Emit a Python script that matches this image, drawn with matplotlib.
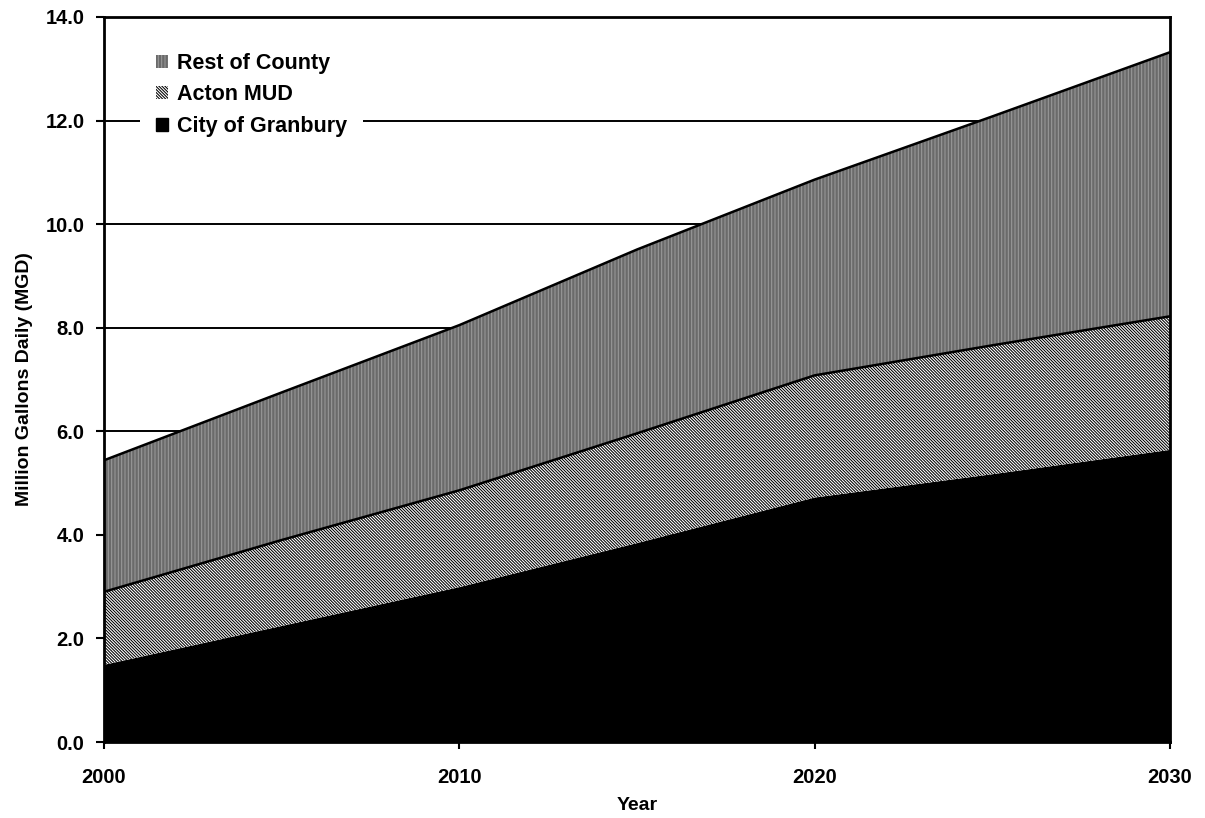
import numpy as np
import matplotlib.pyplot as plt

# values (MGD)
years = [2000, 2005, 2010, 2015, 2020, 2025, 2030]
granbury = [1.49, 2.24, 2.99, 3.84, 4.72, 5.17, 5.64]
acton = [1.41, 1.66, 1.87, 2.12, 2.36, 2.49, 2.58]
rest = [2.54, 2.85, 3.19, 3.55, 3.78, 4.42, 5.10]

yticks = [0, 2, 4, 6, 8, 10, 12, 14]
xticks = [2000, 2010, 2020, 2030]

plt.rcParams['font.family'] = ['Liberation Sans', 'DejaVu Sans']
plt.rcParams['font.weight'] = 'bold'
plt.rcParams['hatch.linewidth'] = 0.75

fig = plt.figure(figsize=(12.05, 8.18), dpi=100)
ax = fig.add_axes([104/1205, 1-742/818, (1170-104)/1205, (742-17)/818])

b1 = np.array(granbury)
b2 = b1 + np.array(acton)
b3 = b2 + np.array(rest)

ax.fill_between(years, 0, b1, facecolor='black', edgecolor='black', lw=1.0,
                zorder=2, label='City of Granbury')
ax.fill_between(years, b1, b2, facecolor='white', edgecolor='black', hatch='\\' * 11,
                lw=0, zorder=2, label='Acton MUD')
ax.fill_between(years, b2, b3, facecolor='#6a6a6a', edgecolor='#9a9a9a', hatch='|' * 5,
                lw=0, zorder=2, label='Rest of County')
ax.plot(years, b2, color='black', lw=1.8, zorder=3)
ax.plot(years, b3, color='black', lw=1.8, zorder=3)

ax.set_xlim(2000, 2030)
ax.set_ylim(0, 14)
ax.set_xticks(xticks)
ax.set_yticks(yticks)
ax.set_yticklabels(['%.1f' % v for v in yticks])
ax.yaxis.grid(True, color='black', lw=1.4)
ax.set_axisbelow(True)
for s in ax.spines.values():
    s.set_linewidth(2)
    s.set_zorder(4)
ax.tick_params(axis='y', direction='out', length=6, width=1.5, pad=8, labelsize=14.5)
ax.tick_params(axis='x', direction='out', length=5, width=1.5, pad=14, labelsize=14.5)

ax.set_xlabel('Year', fontsize=14, fontweight='bold', labelpad=7)
ax.set_ylabel('Million Gallons Daily (MGD)', fontsize=14, fontweight='bold', labelpad=9)

h, l = ax.get_legend_handles_labels()
leg = ax.legend(h[::-1], l[::-1], loc='upper left', bbox_to_anchor=(0.034, 0.973),
                borderaxespad=0, borderpad=0.75, fontsize=15.5, handlelength=0.55,
                handleheight=0.55, handletextpad=0.4, labelspacing=0.5, frameon=True,
                fancybox=False, framealpha=1, facecolor='white', edgecolor='none')
leg.set_zorder(5)

fig.savefig('out.png', dpi=100)
